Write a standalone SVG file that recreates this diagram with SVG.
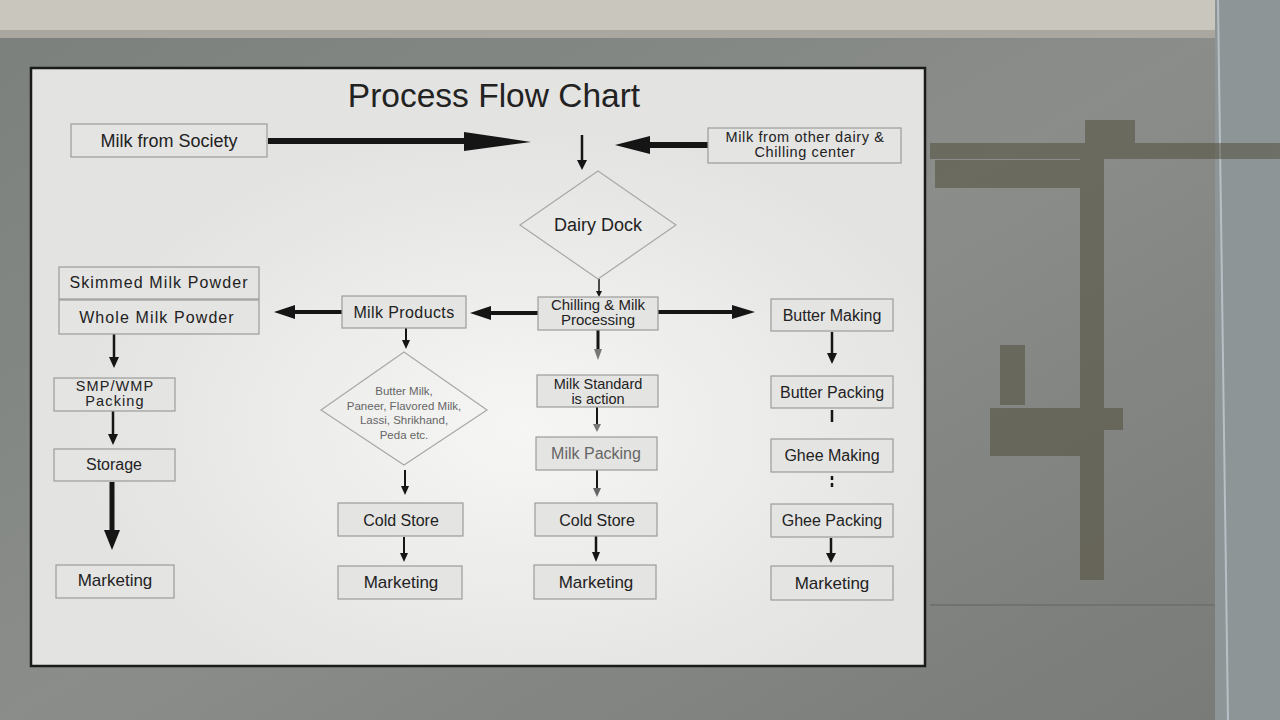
<svg xmlns="http://www.w3.org/2000/svg" width="1280" height="720" viewBox="0 0 1280 720">
<defs>
<style>
.box{fill:#e4e4e2;stroke:#9c9c9a;stroke-width:1.2}
.dia{fill:none;stroke:#a8a8a6;stroke-width:1.2}
.t{font-family:"Liberation Sans",Arial,sans-serif;fill:#222;text-anchor:middle}
.t16{font-size:16px}
.t17{font-size:17px}
.t15{font-size:14.5px}
.ls{letter-spacing:1.1px}
.ln{stroke:#151515;fill:none}
.hd{fill:#151515}
.faint{fill:#666}
</style>
<linearGradient id="wall" x1="0" y1="0" x2="1" y2="1">
<stop offset="0" stop-color="#7b807c"/>
<stop offset="0.5" stop-color="#8a8d89"/>
<stop offset="1" stop-color="#777a76"/>
</linearGradient>
<radialGradient id="glare" cx="0.55" cy="0.6" r="0.5">
<stop offset="0" stop-color="#f6f6f5"/>
<stop offset="1" stop-color="#e3e3e1"/>
</radialGradient>
</defs>

<!-- scene background -->
<rect x="0" y="0" width="1280" height="720" fill="url(#wall)"/>
<rect x="0" y="0" width="1215" height="36" fill="#c9c6be"/>
<rect x="0" y="30" width="1215" height="8" fill="#a9a79f"/>
<rect x="1215" y="0" width="65" height="720" fill="#8d9597"/>
<line x1="1218" y1="0" x2="1228" y2="720" stroke="#b7c0c4" stroke-width="2"/>
<line x1="930" y1="605" x2="1215" y2="605" stroke="#6f726e" stroke-width="2"/>
<g fill="#4f4a36" opacity="0.5">
<rect x="930" y="143" width="350" height="16"/>
<rect x="935" y="160" width="155" height="28"/>
<rect x="1085" y="120" width="50" height="30"/>
<rect x="1080" y="150" width="24" height="430"/>
<rect x="990" y="408" width="133" height="22"/>
<rect x="990" y="430" width="90" height="26"/>
<rect x="1000" y="345" width="25" height="60"/>
</g>

<!-- board -->
<rect x="31" y="68" width="894" height="598" fill="url(#glare)" stroke="#1b1b1b" stroke-width="2.5"/>

<text class="t" x="494" y="107" font-size="33.5">Process Flow Chart</text>

<!-- connectors -->
<g id="connectors">
<line class="ln" x1="268" y1="141" x2="470" y2="141" stroke-width="6"/>
<polygon class="hd" points="464,132 531,142 464,151"/>
<line class="ln" x1="708" y1="145" x2="645" y2="145" stroke-width="6"/>
<polygon class="hd" points="650,136 615,145 650,154"/>
<line class="ln" x1="582" y1="135" x2="582" y2="161" stroke-width="2.5"/>
<polygon class="hd" points="577,160 582,170 587,160"/>
<line class="ln" x1="599" y1="279" x2="599" y2="292" stroke-width="1.5"/>
<polygon class="hd" points="596,291 599,297 602,291"/>
<line class="ln" x1="538" y1="313" x2="488" y2="313" stroke-width="4"/>
<polygon class="hd" points="491,306 470,313 491,320"/>
<line class="ln" x1="658" y1="312" x2="735" y2="312" stroke-width="4"/>
<polygon class="hd" points="732,305 755,312 732,319"/>
<line class="ln" x1="342" y1="312" x2="292" y2="312" stroke-width="4"/>
<polygon class="hd" points="295,305 274,312 295,319"/>
<line class="ln" x1="114" y1="334" x2="114" y2="358" stroke-width="2.5"/>
<polygon class="hd" points="109,357 114,368 119,357"/>
<line class="ln" x1="113" y1="411" x2="113" y2="435" stroke-width="2.5"/>
<polygon class="hd" points="108,434 113,445 118,434"/>
<line class="ln" x1="112" y1="482" x2="112" y2="533" stroke-width="5"/>
<polygon class="hd" points="104,530 112,550 120,530"/>
<line class="ln" x1="406" y1="328" x2="406" y2="341" stroke-width="2"/>
<polygon class="hd" points="402,340 406,349 410,340"/>
<line class="ln" x1="405" y1="470" x2="405" y2="487" stroke-width="2"/>
<polygon class="hd" points="401,486 405,495 409,486"/>
<line class="ln" x1="404" y1="537" x2="404" y2="554" stroke-width="2"/>
<polygon class="hd" points="400,553 404,562 408,553"/>
<line class="ln" x1="598" y1="330" x2="598" y2="350" stroke-width="3" stroke="#555"/>
<polygon points="594,349 598,360 602,349" fill="#777"/>
<line class="ln" x1="597" y1="407" x2="597" y2="425" stroke-width="2" stroke="#666"/>
<polygon points="593,424 597,432 601,424" fill="#777"/>
<line class="ln" x1="597" y1="470" x2="597" y2="489" stroke-width="2" stroke="#555"/>
<polygon points="593,488 597,497 601,488" fill="#666"/>
<line class="ln" x1="596" y1="536" x2="596" y2="553" stroke-width="2.5"/>
<polygon class="hd" points="592,552 596,562 600,552"/>
<line class="ln" x1="832" y1="332" x2="832" y2="354" stroke-width="2.5"/>
<polygon class="hd" points="827,353 832,364 837,353"/>
<line class="ln" x1="832" y1="410" x2="832" y2="422" stroke-width="2.5" stroke="#333"/>
<line class="ln" x1="832" y1="476" x2="832" y2="490" stroke-width="2.5" stroke="#333" stroke-dasharray="4 3"/>
<line class="ln" x1="831" y1="538" x2="831" y2="554" stroke-width="2.5"/>
<polygon class="hd" points="826,553 831,563 836,553"/>
</g>

<g id="milk-society">
<rect class="box" x="71" y="124" width="196" height="33"/>
<text class="t" x="169" y="147" font-size="18">Milk from Society</text>
</g>
<g id="milk-other">
<rect class="box" x="708" y="128" width="193" height="35"/>
<text class="t" x="805" y="142" font-size="14.5" letter-spacing="0.6">Milk from other dairy &amp;</text>
<text class="t" x="805" y="157" font-size="14.5" letter-spacing="0.6">Chilling center</text>
</g>
<g id="dairy-dock">
<polygon class="dia" points="598,171 676,225 598,279 520,225"/>
<text class="t" x="598" y="231" font-size="18">Dairy Dock</text>
</g>
<g id="chilling">
<rect class="box" x="538" y="297" width="120" height="33"/>
<text class="t" x="598" y="310" font-size="15">Chilling &amp; Milk</text>
<text class="t" x="598" y="325" font-size="15">Processing</text>
</g>
<g id="smp">
<rect class="box" x="59" y="267" width="200" height="32"/>
<text class="t t16 ls" x="159" y="288">Skimmed Milk Powder</text>
</g>
<g id="wmp">
<rect class="box" x="59" y="300" width="200" height="34"/>
<text class="t t16 ls" x="157" y="323">Whole Milk Powder</text>
</g>
<g id="smp-packing">
<rect class="box" x="54" y="378" width="121" height="33"/>
<text class="t t15 ls" x="115" y="391">SMP/WMP</text>
<text class="t t15 ls" x="115" y="406">Packing</text>
</g>
<g id="storage">
<rect class="box" x="54" y="449" width="121" height="32"/>
<text class="t t16" x="114" y="470">Storage</text>
</g>
<g id="marketing-1">
<rect class="box" x="56" y="565" width="118" height="33"/>
<text class="t t17" x="115" y="586">Marketing</text>
</g>
<g id="milk-products">
<rect class="box" x="342" y="296" width="124" height="32"/>
<text class="t t16" x="404" y="318" letter-spacing="0.4">Milk Products</text>
</g>
<g id="products-list">
<polygon class="dia" points="404,352 487,410 404,465 321,410"/>
<text class="t faint" x="404" y="395" font-size="11.5">Butter Milk,</text>
<text class="t faint" x="404" y="410" font-size="11.5">Paneer, Flavored Milk,</text>
<text class="t faint" x="404" y="424" font-size="11.5">Lassi, Shrikhand,</text>
<text class="t faint" x="404" y="439" font-size="11.5">Peda etc.</text>
</g>
<g id="cold-store-1">
<rect class="box" x="338" y="503" width="125" height="33"/>
<text class="t t16" x="401" y="526">Cold Store</text>
</g>
<g id="marketing-2">
<rect class="box" x="338" y="566" width="124" height="33"/>
<text class="t t17" x="401" y="588">Marketing</text>
</g>
<g id="milk-standard">
<rect class="box" x="537" y="375" width="121" height="32"/>
<text class="t t15" x="598" y="389">Milk Standard</text>
<text class="t t15" x="598" y="404">is action</text>
</g>
<g id="milk-packing">
<rect class="box" x="536" y="437" width="121" height="33"/>
<text class="t t16" x="596" y="459" style="fill:#666">Milk Packing</text>
</g>
<g id="cold-store-2">
<rect class="box" x="535" y="503" width="122" height="33"/>
<text class="t t16" x="597" y="526">Cold Store</text>
</g>
<g id="marketing-3">
<rect class="box" x="534" y="565" width="122" height="34"/>
<text class="t t17" x="596" y="588">Marketing</text>
</g>
<g id="butter-making">
<rect class="box" x="771" y="299" width="122" height="32"/>
<text class="t t16" x="832" y="321">Butter Making</text>
</g>
<g id="butter-packing">
<rect class="box" x="771" y="376" width="122" height="32"/>
<text class="t t16" x="832" y="398">Butter Packing</text>
</g>
<g id="ghee-making">
<rect class="box" x="771" y="439" width="122" height="33"/>
<text class="t t16" x="832" y="461">Ghee Making</text>
</g>
<g id="ghee-packing">
<rect class="box" x="771" y="504" width="122" height="33"/>
<text class="t t16" x="832" y="526">Ghee Packing</text>
</g>
<g id="marketing-4">
<rect class="box" x="771" y="566" width="122" height="34"/>
<text class="t t17" x="832" y="589">Marketing</text>
</g>
</svg>
